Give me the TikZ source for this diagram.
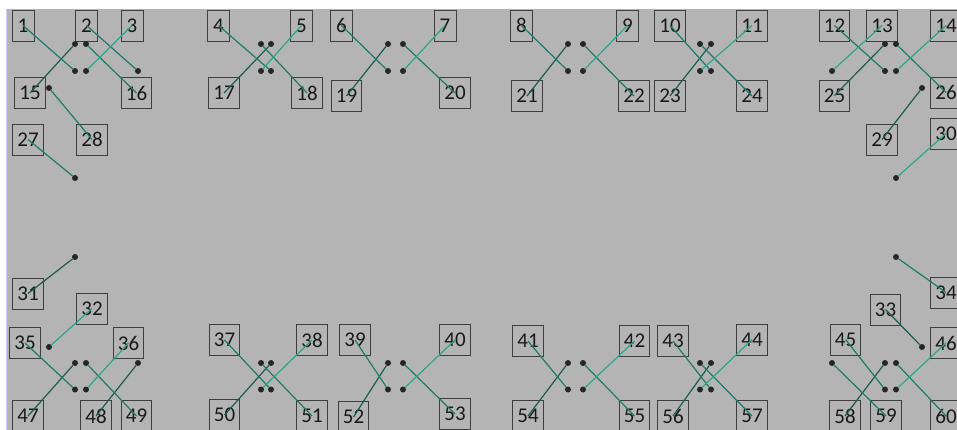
\documentclass[tikz,border=0pt]{standalone}
\usepackage{fontspec}
\setmainfont{Carlito}
\usepackage{xcolor}
\definecolor{bggray}{RGB}{180,180,180}
\definecolor{boxgray}{RGB}{62,62,62}
\definecolor{darkteal}{RGB}{28,92,82}
\definecolor{midteal}{RGB}{30,122,106}
\definecolor{lightteal}{RGB}{44,165,140}
\definecolor{dotgray}{RGB}{38,38,38}
\tikzset{
    lbl/.style={rectangle,draw=boxgray,line width=0.8pt,minimum width=22pt,
                minimum height=31pt,inner xsep=4.5pt,inner ysep=0pt,
                text=black!90,font=\fontsize{21}{21}\selectfont},
    dotpt/.style={circle,fill=dotgray,inner sep=0pt,minimum size=6pt},
    leader/.style={line width=1.2pt},
}
\begin{document}
\begin{tikzpicture}[x=1pt,y=-1pt]

    % ---- 背景 ----
    \clip (0,0) rectangle (957,430);
    \fill[white] (0,0) rectangle (957,430);
    \fill[bggray] (7,9) rectangle (957,430);
    \draw[blue!20,line width=0.8pt] (6.5,9) -- (6.5,430);

    % ---- 编号框 ----
    \foreach \n/\x/\y in {1/23/25.5, 2/86.5/25.5, 3/132/25.5, 4/218.5/25.5,
        5/301.5/25.5, 6/341.5/25.5, 7/445/25.5, 8/521.5/25.5, 9/627.5/25.5,
        10/670/25.5, 11/752/25.5, 12/834.5/25.5, 13/882/25.5, 14/946/25.5,
        15/30/93, 16/136.5/93, 17/224/93, 18/307/93, 19/346.5/96, 20/455/93,
        21/527/96, 22/634/96, 23/670/96, 24/752/96, 25/834.5/95.5, 26/946/92.5,
        27/28/139.5, 28/92/139.5, 29/882/139.5, 30/946/133.5,
        31/28/293.5, 32/92/308.5, 33/885.5/309.5, 34/946/292.5,
        35/25/343, 36/128.5/343, 37/224.5/340, 38/312/340, 39/355/340,
        40/455/340, 41/528/341, 42/634.5/341, 43/673/341, 44/752/339.5,
        45/845.5/339.5, 46/946/343,
        47/28/416, 48/96/416, 49/136.5/416, 50/224.5/415, 51/312/416,
        52/353.5/417, 53/455/414, 54/528/416, 55/634.5/416, 56/673/416,
        57/752/416, 58/845/416, 59/886/416, 60/946/416}
        \node[lbl] (n\n) at (\x,\y) {\n};

    % ---- 端点 ----
    \foreach \n/\x/\y in {1/75/71, 2/138/71, 3/86/71, 15/75/44, 16/86/44,
        27/75/178, 28/49/88, 4/271/71, 5/261/71, 17/271/44, 18/261/44,
        6/388/71, 7/403/71, 19/388/44, 20/403/44, 8/568/71, 9/583/71,
        21/568/44, 22/583/44, 10/711/71, 11/700/71, 23/711/44, 24/700/44,
        12/885/71, 13/832/71, 14/896/71, 25/885/44, 26/896/44,
        29/922/88, 30/896/178, 31/75/257, 32/49/347, 34/896/257, 33/922/347,
        35/75/389.5, 36/86/389.5, 47/75/363, 48/138/363, 49/86/363,
        37/271/389.5, 38/261/389.5, 50/271/363, 51/261/363,
        39/388/389.5, 40/403/389.5, 52/388/363, 53/403/363,
        41/568/389.5, 42/583/389.5, 54/568/363, 55/583/363,
        43/711/389.5, 44/700/389.5, 56/711/363, 57/700/363,
        45/885/389.5, 46/896/389.5, 58/885/363, 59/832/363, 60/896/363}
        \node[dotpt] (d\n) at (\x,\y) {};

    % ---- 连线 ----
    \foreach \n in {15,17,19,21,23,25,29,31,47,48,50,52,54,56,58,33}
        \draw[leader,darkteal] (n\n.center) -- (d\n);
    \foreach \n in {1,2,16,27,28,4,18,6,20,8,22,10,24,12,26,34,35,49,
                    37,51,39,53,41,55,43,57,45,59,60}
        \draw[leader,midteal] (n\n.center) -- (d\n);
    \foreach \n in {3,5,7,9,11,13,14,30,32,36,38,40,42,44,46}
        \draw[leader,lightteal] (n\n.center) -- (d\n);

\end{tikzpicture}
\end{document}
